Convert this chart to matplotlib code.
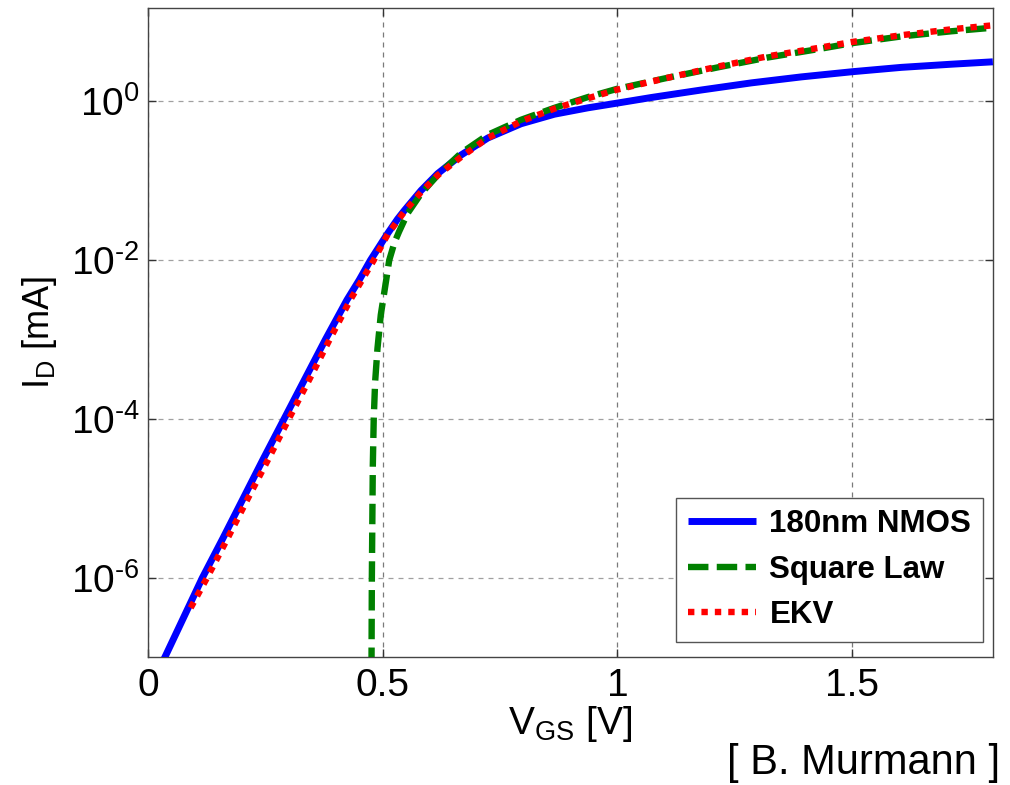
import numpy as np
import matplotlib
matplotlib.use('Agg')
import matplotlib.pyplot as plt
from matplotlib.ticker import FixedLocator, FixedFormatter, NullLocator

plt.rcParams['font.family'] = ['Liberation Sans', 'DejaVu Sans']
plt.rcParams['mathtext.fontset'] = 'custom'
plt.rcParams['mathtext.rm'] = 'Liberation Sans'
plt.rcParams['mathtext.it'] = 'Liberation Sans:italic'
plt.rcParams['mathtext.bf'] = 'Liberation Sans:bold'
plt.rcParams['axes.unicode_minus'] = False

# ---- data (V_GS in volts, log10 of I_D in mA) ----
nmos_vgs = [0.028, 0.033, 0.116, 0.160, 0.203, 0.246, 0.290, 0.334, 0.378, 0.424,
            0.450, 0.474, 0.500, 0.511, 0.532, 0.546, 0.582, 0.617, 0.667,
            0.724, 0.795, 0.866, 0.937, 1.000, 1.072, 1.179, 1.286, 1.392,
            1.500, 1.605, 1.712, 1.800]
nmos_log_id = [-7.10, -7.04, -6.00, -5.50, -5.00, -4.50, -4.00, -3.50, -3.00, -2.50,
               -2.25, -2.00, -1.76, -1.66, -1.48, -1.375, -1.12, -0.91, -0.675,
               -0.46, -0.28, -0.16, -0.08, -0.02, 0.05, 0.145, 0.235, 0.31,
               0.375, 0.43, 0.47, 0.50]

sq_vgs = [0.476, 0.477, 0.479, 0.481, 0.484, 0.489, 0.496, 0.507, 0.514, 0.525,
          0.535, 0.553, 0.582, 0.617, 0.667, 0.724, 0.795, 0.866, 0.937, 1.000,
          1.108, 1.214, 1.321, 1.428, 1.500, 1.605, 1.712, 1.800]
sq_log_id = [-7.50, -6.00, -4.60, -4.00, -3.53, -3.11, -2.69, -2.27, -2.00, -1.78,
             -1.64, -1.41, -1.16, -0.93, -0.65, -0.42, -0.23, -0.08, 0.055, 0.16,
             0.30, 0.43, 0.555, 0.66, 0.735, 0.82, 0.885, 0.93]

ekv_vgs = [0.091, 0.126, 0.170, 0.213, 0.257, 0.300, 0.344, 0.387, 0.431, 0.457,
           0.481, 0.511, 0.546, 0.582, 0.617, 0.667, 0.724, 0.795, 0.866,
           0.937, 1.000, 1.108, 1.214, 1.321, 1.428, 1.500, 1.605, 1.712, 1.800]
ekv_log_id = [-6.38, -6.00, -5.50, -5.00, -4.50, -4.00, -3.50, -3.00, -2.50, -2.24,
              -2.00, -1.67, -1.39, -1.14, -0.93, -0.70, -0.46, -0.25, -0.09,
              0.04, 0.15, 0.30, 0.44, 0.57, 0.675, 0.75, 0.835, 0.91, 0.96]

series_labels = ['180nm NMOS', 'Square Law', 'EKV']
x_ticks = [0, 0.5, 1, 1.5]
x_tick_labels = ['0', '0.5', '1', '1.5']
y_ticks = [1e-6, 1e-4, 1e-2, 1e0]
y_tick_labels = ['$\\mathregular{10^{\u20106}}$', '$\\mathregular{10^{\u20104}}$',
                 '$\\mathregular{10^{\u20102}}$', '$\\mathregular{10^{0}}$']

fig = plt.figure(figsize=(10.1, 7.85), dpi=100)
ax = fig.add_axes([0.1465, 0.163, 0.8365, 0.827])

ax.plot(nmos_vgs, 10.0 ** np.array(nmos_log_id), color='#0000ff', lw=5,
        solid_capstyle='butt', solid_joinstyle='round',
        label=series_labels[0], zorder=3)
ax.plot(sq_vgs, 10.0 ** np.array(sq_log_id), color='#008000', lw=4.6,
        ls=(0, (3.2, 1.3)), label=series_labels[1], zorder=4)
ax.plot(ekv_vgs, 10.0 ** np.array(ekv_log_id), color='#ff0000', lw=4.6,
        ls=(0, (1.0, 1.1)), label=series_labels[2], zorder=5)

ax.set_yscale('log')
ax.set_xlim(0, 1.8)
ax.set_ylim(1e-7, 10 ** 1.18)

ax.xaxis.set_major_locator(FixedLocator(x_ticks))
ax.xaxis.set_major_formatter(FixedFormatter(x_tick_labels))
ax.yaxis.set_major_locator(FixedLocator(y_ticks))
ax.yaxis.set_major_formatter(FixedFormatter(y_tick_labels))
ax.yaxis.set_minor_locator(NullLocator())
ax.xaxis.set_minor_locator(NullLocator())

ax.tick_params(direction='in', length=6, width=1, top=True, right=True,
               labelsize=28, colors='#333333', labelcolor='black')
ax.tick_params(axis='x', pad=8)
ax.tick_params(axis='y', pad=6)

ax.grid(True, which='major', axis='x', ls=(0, (4, 4)), color='#7a7a7a', lw=0.9)
ax.grid(True, which='major', axis='y', ls=(0, (4, 4)), color='#a0a0a0', lw=0.9)
for s in ax.spines.values():
    s.set_color('#444444')
    s.set_linewidth(1.0)

ax.set_xlabel(r'V$_{\mathregular{GS}}$ [V]', fontsize=28, labelpad=0)
ax.set_ylabel(r'I$_{\mathregular{D}}$ [mA]', fontsize=26, labelpad=8)

leg = ax.legend(loc='lower right', bbox_to_anchor=(1.0, 0.008),
                prop={'weight': 'bold', 'size': 22.5},
                frameon=True, fancybox=False, framealpha=1, edgecolor='#555555',
                handlelength=2.2, handletextpad=0.42, labelspacing=0.5,
                borderpad=0.36, borderaxespad=0.33)
leg.get_frame().set_linewidth(1.0)

fig.text(0.99, 0.014, '[ B. Murmann ]', ha='right', va='baseline', fontsize=30)

fig.savefig('out.png', dpi=100)
